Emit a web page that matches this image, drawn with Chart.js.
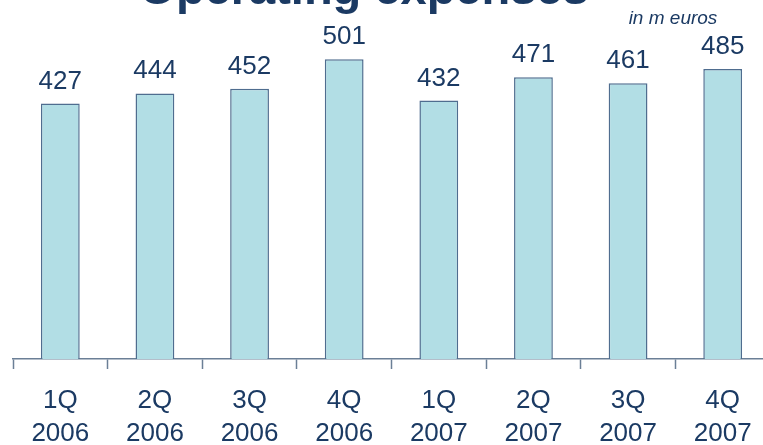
<!DOCTYPE html>
<html>
<head>
<meta charset="utf-8">
<title>Operating expenses</title>
<script src="https://cdn.jsdelivr.net/npm/chart.js@4.4.0/dist/chart.umd.min.js"></script>
<style>
  html, body { margin: 0; padding: 0; background: #fff; overflow: hidden; }
  #wrap { position: relative; width: 780px; height: 445px; }
</style>
</head>
<body>
<div id="wrap"><canvas id="myChart"></canvas></div>
<script>
// Quarterly operating expenses, in m euros
const quarters = ['1Q', '2Q', '3Q', '4Q', '1Q', '2Q', '3Q', '4Q'];
const years = ['2006', '2006', '2006', '2006', '2007', '2007', '2007', '2007'];
const expenses = [427, 444, 452, 501, 432, 471, 461, 485];

const navy = '#1b3a63';
const fontFamily = '"Liberation Sans", Arial, sans-serif';

// Title, unit note and the value above each bar
const labelsPlugin = {
    id: 'labels',
    afterDatasetsDraw(chart) {
        const c = chart.ctx;
        c.save();
        c.fillStyle = navy;
        c.textAlign = 'center';
        c.textBaseline = 'alphabetic';
        c.font = '26px ' + fontFamily;
        const meta = chart.getDatasetMeta(0);
        meta.data.forEach((bar, i) => {
            c.fillText(String(expenses[i]), bar.x, bar.y - 15);
        });

        c.font = 'bold 47px ' + fontFamily;
        c.fillText('Operating expenses', 364, 4);

        c.font = 'italic 19px ' + fontFamily;
        c.fillText('in m euros', 673, 24);
        c.restore();
    }
};

const ctx = document.getElementById('myChart').getContext('2d');
new Chart(ctx, {
    type: 'bar',
    data: {
        labels: quarters.map((q, i) => [q, years[i]]),
        datasets: [{
            data: expenses,
            backgroundColor: '#b2dee5',
            borderColor: '#4f6d8f',
            borderWidth: 1.5,
            borderSkipped: 'bottom',
            categoryPercentage: 1,
            barPercentage: 0.41
        }]
    },
    options: {
        responsive: true,
        maintainAspectRatio: false,
        animation: false,
        layout: { padding: { left: 13, right: 10, top: 39, bottom: 0 } },
        plugins: {
            legend: { display: false },
            tooltip: { enabled: false }
        },
        scales: {
            x: {
                afterFit(scale) { scale.height = 86; },
                border: { display: true, color: '#6b7f96', width: 1.5 },
                grid: {
                    display: true,
                    offset: true,
                    drawOnChartArea: false,
                    drawTicks: true,
                    tickLength: 10,
                    tickWidth: 1.5,
                    color: '#6b7f96'
                },
                ticks: {
                    color: navy,
                    padding: 15,
                    font: { family: fontFamily, size: 26, lineHeight: 1.27 }
                }
            },
            y: {
                display: false,
                min: 0,
                max: 535
            }
        }
    },
    plugins: [labelsPlugin]
});
</script>
</body>
</html>
